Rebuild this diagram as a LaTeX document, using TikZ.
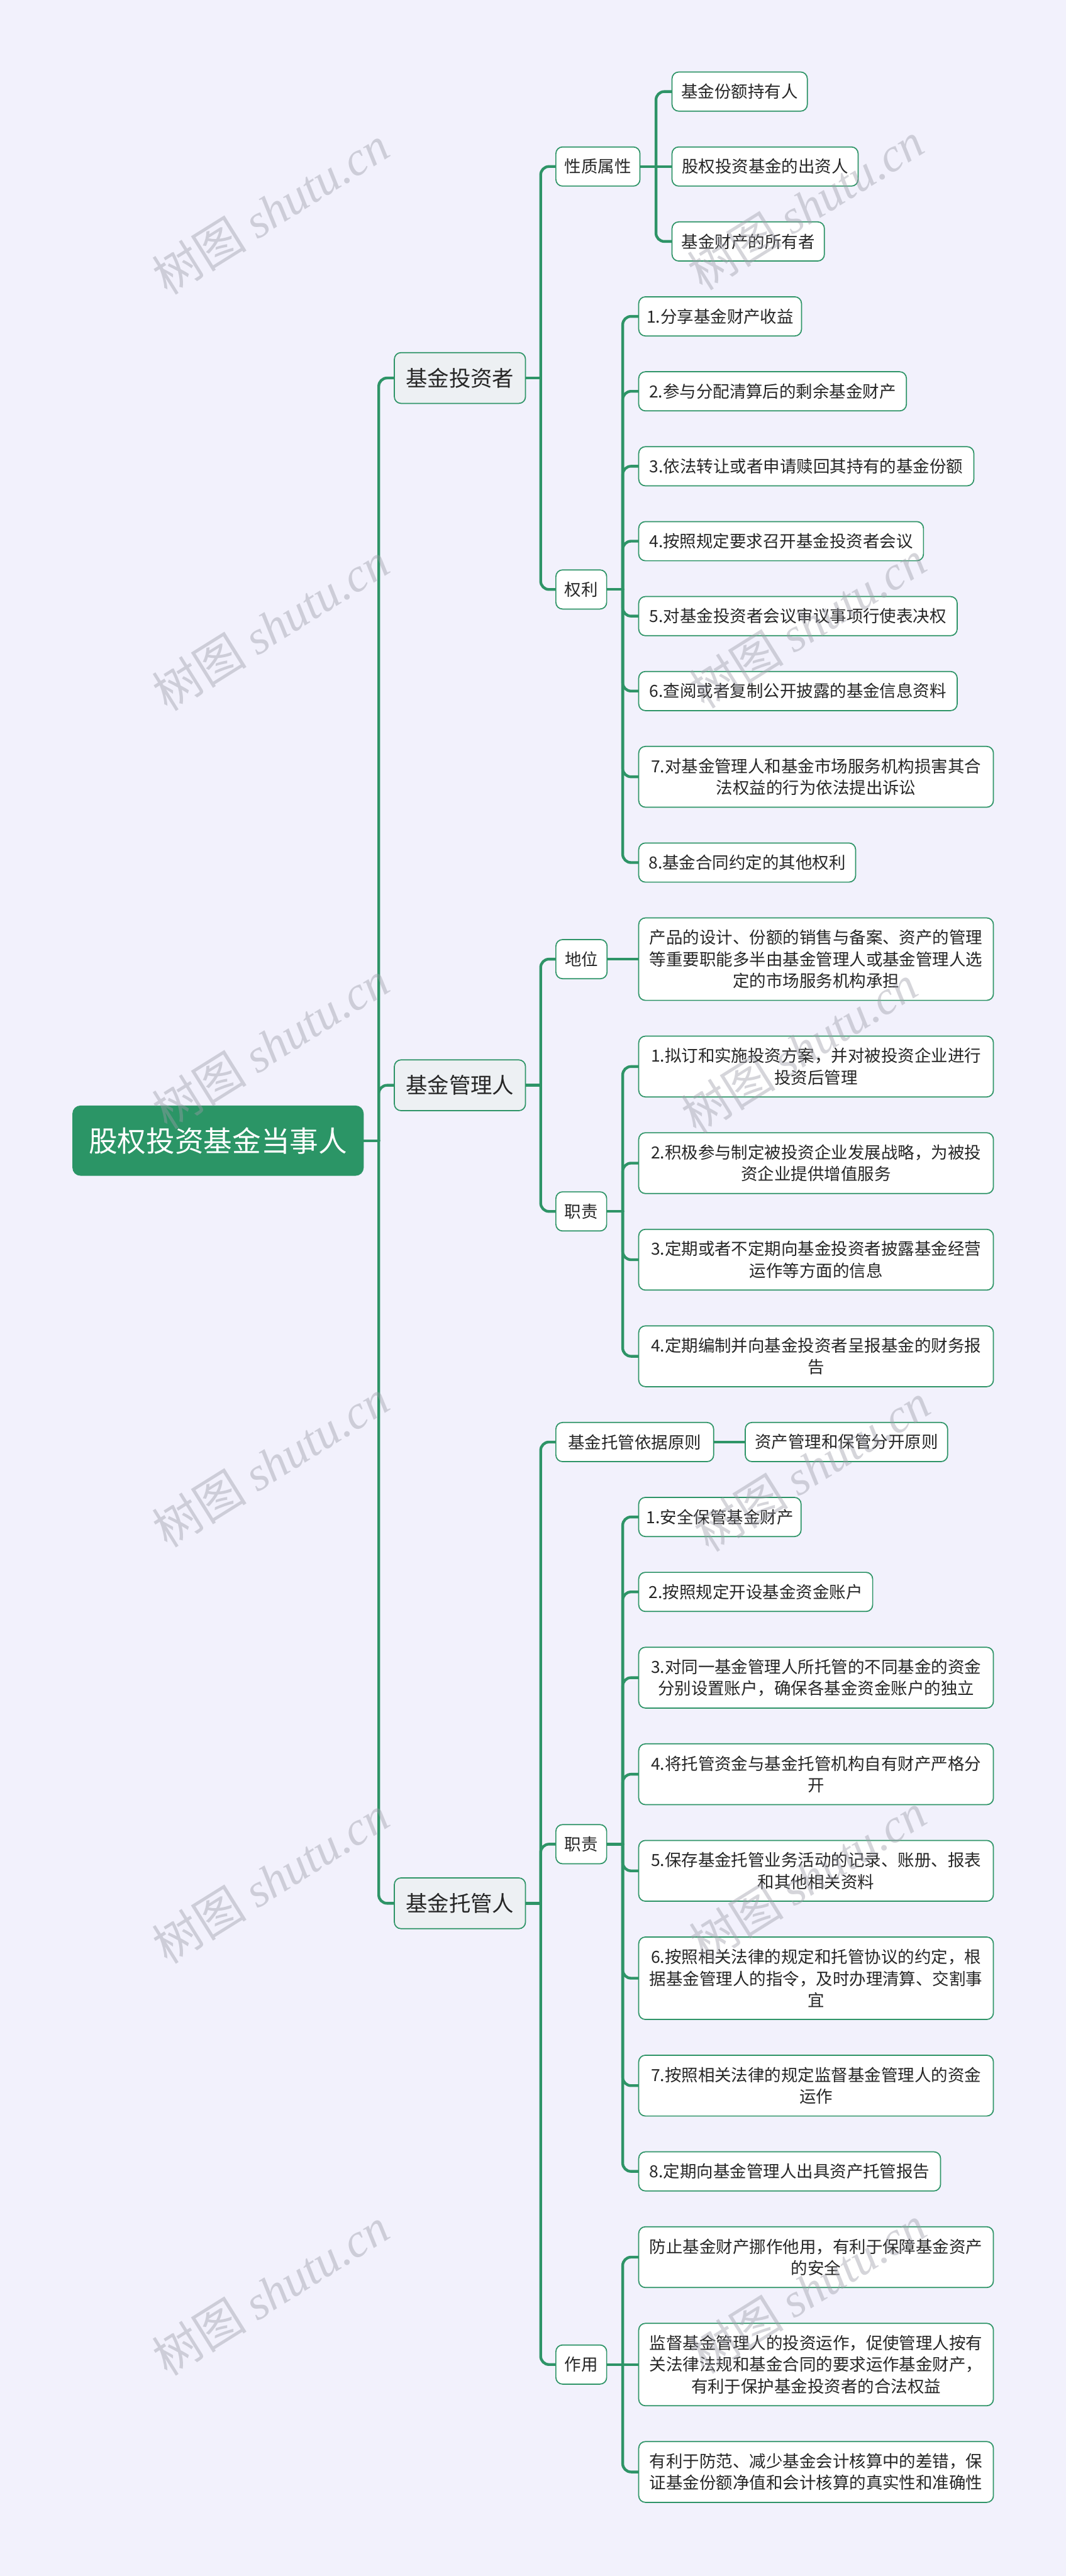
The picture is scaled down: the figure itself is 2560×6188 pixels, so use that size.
\documentclass[tikz,border=0pt]{standalone}
\usepackage{fontspec}
\setmainfont{Noto Sans CJK SC}
\newfontfamily\wmlatin{Liberation Serif}
\usetikzlibrary{calc}
\definecolor{bgc}{HTML}{F2F1FC}
\definecolor{gline}{HTML}{2E9467}
\definecolor{rootc}{HTML}{2B9566}
\definecolor{lonec}{HTML}{EDF0F3}
\definecolor{txt}{HTML}{262626}
\definecolor{wmc}{HTML}{9C9CA8}
\pgfdeclarelayer{bgl}
\pgfdeclarelayer{fg}
\pgfsetlayers{bgl,main,fg}
\tikzset{
 box/.style={draw=gline, line width=1.3pt, rounded corners=8pt, fill=white, text=txt, inner sep=0pt, align=center, font=\fontsize{20pt}{26pt}\selectfont},
 leafbox/.style={box},
 midbox/.style={box},
 onebox/.style={box, fill=lonec, font=\fontsize{26pt}{32pt}\selectfont},
 rootbox/.style={box, fill=rootc, draw=rootc, text=white, font=\fontsize{34.5pt}{40pt}\selectfont, rounded corners=9pt},
 conn/.style={draw=gline, line width=3.3pt, line cap=round, line join=round},
 wm/.style={rotate=32, text=wmc, opacity=0.42, inner sep=0pt, font=\fontsize{57pt}{57pt}\selectfont},
}
\newcommand\nd[7][leafbox]{\node[#1, anchor=west, minimum width={(#4-#3)*0.5pt}, minimum height={(#6-#5)*0.5pt}] (#2) at (#3,{(#5+#6)/2}) {#7};}
\newcommand\lk[2]{%
 \path (#1.east) -- (#2.west) coordinate[pos=0.5] (m#2);
 \draw[conn] (#1.east) -- (m#2 |- #1.east) coordinate (j#2);
 \draw[conn, rounded corners=10pt] (j#2) |- (#2.west);
}
\newcommand\lks[2]{\draw[conn] (#1.east) -- (#2.west);}
\newcommand\wmark[3]{\node[wm] (#1) at (#2,#3) {树图 {\wmlatin\itshape shutu.cn}};}
\begin{document}
\begin{tikzpicture}[x=0.5pt,y=-0.5pt]
\useasboundingbox (0,0) rectangle (2560,6188);
% root and level 1
\nd[rootbox]{R}{174}{871}{2657}{2823}{股权投资基金当事人}
\nd[onebox]{A}{946}{1261}{847}{969}{基金投资者}
\nd[onebox]{B}{946}{1261}{2546}{2668}{基金管理人}
\nd[onebox]{C}{946}{1261}{4511}{4633}{基金托管人}
% A
\nd[midbox]{A1}{1334}{1536}{353}{447}{性质属性}
\nd[midbox]{A2}{1334}{1456}{1369}{1463}{权利}
\nd{A11}{1613}{1938}{173}{267}{基金份额持有人}
\nd{A12}{1613}{2060}{353}{447}{股权投资基金的出资人}
\nd{A13}{1613}{1979}{533}{627}{基金财产的所有者}
\nd{A21}{1533}{1924}{713}{807}{1.分享基金财产收益}
\nd{A22}{1533}{2176}{893}{987}{2.参与分配清算后的剩余基金财产}
\nd{A23}{1533}{2338}{1073}{1167}{3.依法转让或者申请赎回其持有的基金份额}
\nd{A24}{1533}{2217}{1253}{1347}{4.按照规定要求召开基金投资者会议}
\nd{A25}{1533}{2298}{1433}{1527}{5.对基金投资者会议审议事项行使表决权}
\nd{A26}{1533}{2298}{1613}{1707}{6.查阅或者复制公开披露的基金信息资料}
\nd{A27}{1533}{2385}{1793}{1939}{7.对基金管理人和基金市场服务机构损害其合\\法权益的行为依法提出诉讼}
\nd{A28}{1533}{2054}{2025}{2119}{8.基金合同约定的其他权利}
% B
\nd[midbox]{B1}{1334}{1457}{2257}{2351}{地位}
\nd[midbox]{B2}{1334}{1456}{2863}{2957}{职责}
\nd{B11}{1533}{2385}{2205}{2403}{产品的设计、份额的销售与备案、资产的管理\\等重要职能多半由基金管理人或基金管理人选\\定的市场服务机构承担}
\nd{B21}{1533}{2385}{2489}{2635}{1.拟订和实施投资方案，并对被投资企业进行\\投资后管理}
\nd{B22}{1533}{2385}{2721}{2867}{2.积极参与制定被投资企业发展战略，为被投\\资企业提供增值服务}
\nd{B23}{1533}{2385}{2953}{3099}{3.定期或者不定期向基金投资者披露基金经营\\运作等方面的信息}
\nd{B24}{1533}{2385}{3185}{3331}{4.定期编制并向基金投资者呈报基金的财务报\\告}
% C
\nd[midbox]{C1}{1334}{1713}{3417}{3511}{基金托管依据原则}
\nd{C11}{1789}{2275}{3417}{3511}{资产管理和保管分开原则}
\nd[midbox]{C2}{1334}{1456}{4383}{4477}{职责}
\nd[midbox]{C3}{1334}{1456}{5633}{5727}{作用}
\nd{C21}{1533}{1923}{3597}{3691}{1.安全保管基金财产}
\nd{C22}{1533}{2095}{3777}{3871}{2.按照规定开设基金资金账户}
\nd{C23}{1533}{2385}{3957}{4103}{3.对同一基金管理人所托管的不同基金的资金\\分别设置账户，确保各基金资金账户的独立}
\nd{C24}{1533}{2385}{4189}{4335}{4.将托管资金与基金托管机构自有财产严格分\\开}
\nd{C25}{1533}{2385}{4421}{4567}{5.保存基金托管业务活动的记录、账册、报表\\和其他相关资料}
\nd{C26}{1533}{2385}{4653}{4851}{6.按照相关法律的规定和托管协议的约定，根\\据基金管理人的指令，及时办理清算、交割事\\宜}
\nd{C27}{1533}{2385}{4937}{5083}{7.按照相关法律的规定监督基金管理人的资金\\运作}
\nd{C28}{1533}{2258}{5169}{5263}{8.定期向基金管理人出具资产托管报告}
\nd{C31}{1533}{2385}{5349}{5495}{防止基金财产挪作他用，有利于保障基金资产\\的安全}
\nd{C32}{1533}{2385}{5581}{5779}{监督基金管理人的投资运作，促使管理人按有\\关法律法规和基金合同的要求运作基金财产，\\有利于保护基金投资者的合法权益}
\nd{C33}{1533}{2385}{5865}{6011}{有利于防范、减少基金会计核算中的差错，保\\证基金份额净值和会计核算的真实性和准确性}
\begin{pgfonlayer}{bgl}
\fill[bgc] (0,0) rectangle (2560,6188);
\lk{R}{A}\lk{R}{B}\lk{R}{C}
\lk{A}{A1}\lk{A}{A2}
\lk{A1}{A11}\lks{A1}{A12}\lk{A1}{A13}
\lk{A2}{A21}\lk{A2}{A22}\lk{A2}{A23}\lk{A2}{A24}\lk{A2}{A25}\lk{A2}{A26}\lk{A2}{A27}\lk{A2}{A28}
\lk{B}{B1}\lk{B}{B2}
\lks{B1}{B11}
\lk{B2}{B21}\lk{B2}{B22}\lk{B2}{B23}\lk{B2}{B24}
\lk{C}{C1}\lk{C}{C2}\lk{C}{C3}
\lks{C1}{C11}
\lk{C2}{C21}\lk{C2}{C22}\lk{C2}{C23}\lk{C2}{C24}\lk{C2}{C25}\lk{C2}{C26}\lk{C2}{C27}\lk{C2}{C28}
\lk{C3}{C31}\lks{C3}{C32}\lk{C3}{C33}
\end{pgfonlayer}
\begin{pgfonlayer}{fg}
\wmark{w1}{650}{505}\wmark{w2}{1935}{495}
\wmark{w3}{650}{1505}\wmark{w4}{1940}{1500}
\wmark{w5}{650}{2510}\wmark{w6}{1920}{2520}
\wmark{w7}{650}{3515}\wmark{w8}{1950}{3525}
\wmark{w9}{650}{4515}\wmark{w10}{1940}{4510}
\wmark{w11}{650}{5505}\wmark{w12}{1940}{5500}
\end{pgfonlayer}
\end{tikzpicture}
\end{document}
